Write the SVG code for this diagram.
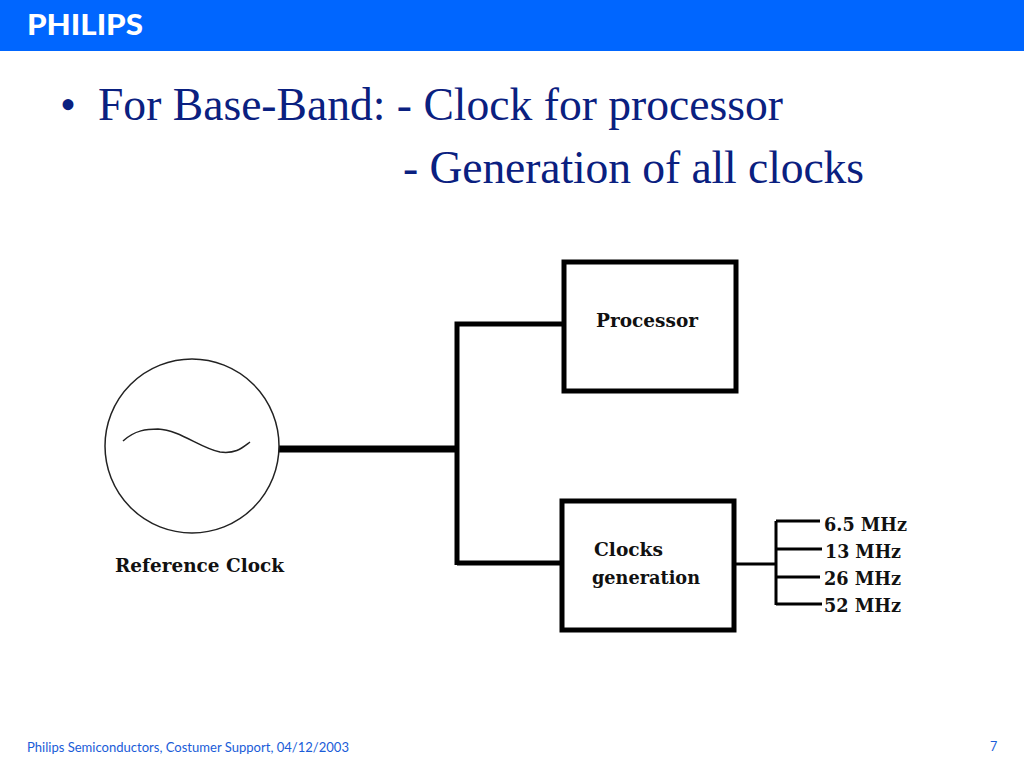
<svg xmlns="http://www.w3.org/2000/svg" width="1024" height="768" viewBox="0 0 1024 768">
<style>
.title{font-family:"Liberation Serif",serif;font-size:45.600px;fill:#0a2080}
.foot{font-family:"Lato","Noto Sans",sans-serif;font-size:12.500px;fill:#1a5cd8}
.lab{font-family:"DejaVu Serif","Liberation Serif",serif;font-weight:bold;fill:#111;font-size:19px}
.box{fill:#fff;stroke:#000;stroke-width:5}
.m{fill:none;stroke:#000;stroke-width:7}
.w{fill:none;stroke:#000;stroke-width:5}
.t{fill:none;stroke:#000;stroke-width:3}
</style>
<rect width="1024" height="768" fill="#fff"/>
<g id="header"><rect width="1024" height="51" fill="#0066ff"/>
<text x="27" y="35" font-family="Lato,'Noto Sans',sans-serif" font-weight="900" font-size="29" textLength="116" lengthAdjust="spacingAndGlyphs" fill="#fff">PHILIPS</text></g>
<g id="title">
<text class="title" x="60" y="120">•</text>
<text class="title" x="98" y="120">For Base-Band: - Clock for processor</text>
<text class="title" x="403" y="183" textLength="461" lengthAdjust="spacing">- Generation of all clocks</text>
</g>
<g id="connectors">
<path class="m" d="M279 449H457"/>
<path class="w" d="M457 565V324H564M457 563H562"/>
<path class="t" d="M735 564H776"/>
<path class="t" d="M776 521V605M776 521H820M776 549H822M776 577H820M776 604H822"/>
</g>
<g id="reference-clock">
<circle cx="192" cy="446" r="87" fill="#fff" stroke="#222" stroke-width="1.500"/>
<path d="M123 441C135 430 147 429 158 429C180 430 200 448 220 452C236 454 242 448 250 442" fill="none" stroke="#222" stroke-width="1.500"/>
<text class="lab" x="115" y="572" textLength="169" lengthAdjust="spacingAndGlyphs">Reference Clock</text>
</g>
<g id="processor">
<rect class="box" x="564" y="262" width="172" height="129"/>
<text class="lab" x="596" y="327" textLength="102" lengthAdjust="spacingAndGlyphs">Processor</text>
</g>
<g id="clocks-generation">
<rect class="box" x="562" y="501" width="172" height="129"/>
<text class="lab" x="594" y="556" textLength="69" lengthAdjust="spacingAndGlyphs">Clocks</text>
<text class="lab" x="592" y="584" textLength="108" lengthAdjust="spacingAndGlyphs">generation</text>
</g>
<g id="outputs">
<text class="lab" x="824" y="531" textLength="83" lengthAdjust="spacingAndGlyphs">6.5 MHz</text>
<text class="lab" x="825" y="558" textLength="76" lengthAdjust="spacingAndGlyphs">13 MHz</text>
<text class="lab" x="824" y="585" textLength="77" lengthAdjust="spacingAndGlyphs">26 MHz</text>
<text class="lab" x="824" y="612" textLength="77" lengthAdjust="spacingAndGlyphs">52 MHz</text>
</g>
<g id="footer">
<text class="foot" x="27" y="752" textLength="322" lengthAdjust="spacingAndGlyphs">Philips Semiconductors, Costumer Support, 04/12/2003</text>
<text class="foot" x="990" y="751">7</text>
</g>
</svg>
